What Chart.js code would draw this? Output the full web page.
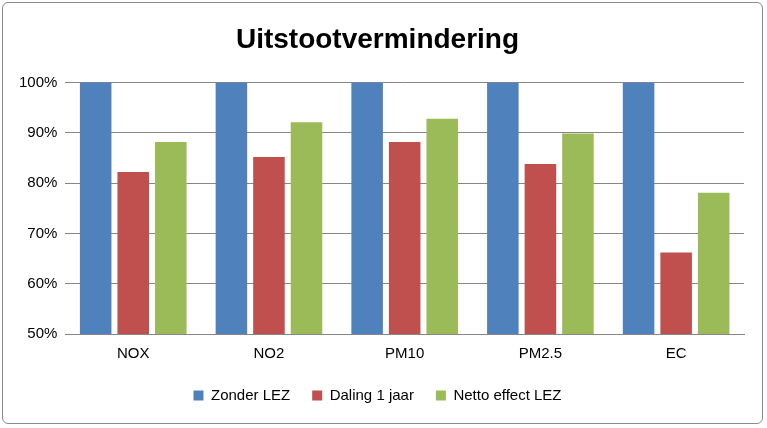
<!DOCTYPE html>
<html>
<head>
<meta charset="utf-8">
<script src="https://cdn.jsdelivr.net/npm/chart.js@4/dist/chart.umd.min.js"></script>
<style>
  html, body { margin: 0; padding: 0; background: #fff; }
  #wrap { position: absolute; left: 2px; top: 2px; width: 761px; height: 422px; border: 1px solid #8c8c8c; border-radius: 6px; box-sizing: border-box; }
</style>
</head>
<body>
<div id="wrap"><canvas id="chart" width="759" height="420"></canvas></div>
<script>
// data
const categories = ['NOX', 'NO2', 'PM10', 'PM2.5', 'EC'];
const zonderLez = [100, 100, 100, 100, 100];
const daling1Jaar = [82.2, 85.2, 88.2, 83.8, 66.2];
const nettoEffect = [88.2, 92.1, 92.8, 89.9, 78.1];

function makeChart(){
    const ctx = document.getElementById('chart');
    new Chart(ctx, {
        type: 'bar',
        data: {
            labels: categories,
            datasets: [
                { label: 'Zonder LEZ', data: zonderLez, backgroundColor: '#4F81BD' },
                { label: 'Daling 1 jaar', data: daling1Jaar, backgroundColor: '#C0504D' },
                { label: 'Netto effect LEZ', data: nettoEffect, backgroundColor: '#9BBB59' }
            ]
        },
        options: {
            responsive: false,
            animation: false,
            layout: { padding: { left: 8, right: 18, top: 4, bottom: 10 } },
            datasets: { bar: { categoryPercentage: 0.83, barPercentage: 0.84 } },
            plugins: {
                title: {
                    display: true,
                    text: 'Uitstootvermindering',
                    color: '#000',
                    font: { family: 'Liberation Sans', size: 28, weight: 'bold' },
                    padding: { top: 16, bottom: 26 }
                },
                legend: {
                    position: 'bottom',
                    labels: {
                        boxWidth: 10, boxHeight: 10, padding: 22,
                        color: '#000',
                        font: { family: 'Liberation Sans', size: 15 }
                    }
                },
                tooltip: { enabled: false }
            },
            scales: {
                x: {
                    grid: { display: false },
                    border: { color: '#868686' },
                    ticks: { color: '#000', font: { family: 'Liberation Sans', size: 15 } }
                },
                y: {
                    min: 50, max: 100,
                    ticks: {
                        stepSize: 10, color: '#000', padding: 8,
                        font: { family: 'Liberation Sans', size: 15 },
                        callback: v => v + '%'
                    },
                    grid: { color: '#868686', drawTicks: false },
                    border: { display: false }
                }
            }
        }
    });
}makeChart();
</script>
</body>
</html>
